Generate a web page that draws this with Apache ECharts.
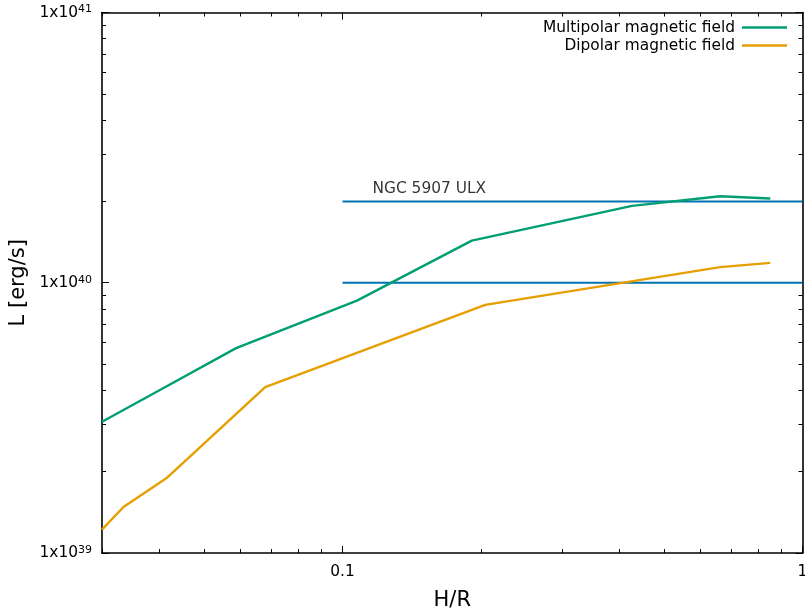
<!DOCTYPE html>
<html><head><meta charset="utf-8">
<script src="https://cdn.jsdelivr.net/npm/echarts@6/dist/echarts.min.js"></script>
<style>html,body{margin:0;padding:0;background:#fff}#c{width:805px;height:615px}</style>
</head><body><div id="c"></div>
<script>
// Data
const multiHR = [0.03, 0.040, 0.0587, 0.1075, 0.191, 0.426, 0.662, 0.851];
const multiL  = [3.06e39, 4.0e39, 5.73e39, 8.59e39, 1.432e40, 1.925e40, 2.09e40, 2.05e40];
const dipHR   = [0.03, 0.0334, 0.0414, 0.0679, 0.2043, 0.418, 0.662, 0.851];
const dipL    = [1.22e39, 1.48e39, 1.89e39, 4.11e39, 8.28e39, 1.008e40, 1.142e40, 1.185e40];
const ulxHR = [0.1, 1];
const ulxLevels = [1e40, 2e40];
const ulxName = 'NGC 5907 ULX';
const seriesNames = ['Multipolar magnetic field', 'Dipolar magnetic field'];
const xRange = [0.03, 1];
const yRange = [1e39, 1e41];
const xMajorTicks = [0.1, 1];
const xMinorTicks = [0.03, 0.04, 0.05, 0.06, 0.07, 0.08, 0.09, 0.2, 0.3, 0.4, 0.5, 0.6, 0.7, 0.8, 0.9];
const yMajorTicks = [1e39, 1e40, 1e41];
const yMinorTicks = [2e39, 3e39, 4e39, 5e39, 6e39, 7e39, 8e39, 9e39, 2e40, 3e40, 4e40, 5e40, 6e40, 7e40, 8e40, 9e40];

const FONT = 'DejaVu Sans';
const FS = 15.4;
const zip = (a, b) => a.map((v, i) => [v, b[i]]);

function axis(kind, pos, ticks, len, opts) {
  const r = kind === 'x' ? xRange : yRange;
  return Object.assign({
    type: 'log', logBase: 10, min: r[0], max: r[1], position: pos,
    axisLine: { show: false, onZero: false },
    axisTick: { show: true, inside: true, length: len, customValues: ticks, lineStyle: { color: '#000', width: 1 } },
    axisLabel: { show: false },
    splitLine: { show: false }, minorTick: { show: false }, minorSplitLine: { show: false }
  }, opts || {});
}
const line = { show: true, onZero: false, lineStyle: { color: '#000', width: 1.6 } };

const xAxes = [
  axis('x', 'bottom', xMajorTicks, 7, {
    axisLine: line,
    axisLabel: { show: true, customValues: xMajorTicks, fontFamily: FONT, fontSize: FS, color: '#000', margin: 11,
      formatter: v => String(v) },
    name: 'H/R', nameLocation: 'middle', nameGap: 37,
    nameTextStyle: { fontFamily: FONT, fontSize: 21, color: '#000' }
  }),
  axis('x', 'bottom', xMinorTicks, 4),
  axis('x', 'top', xMajorTicks, 7, { axisLine: line }),
  axis('x', 'top', xMinorTicks, 4)
];
const yAxes = [
  axis('y', 'left', yMajorTicks, 7, {
    axisLine: line,
    axisLabel: { show: true, customValues: yMajorTicks, margin: 10,
      formatter: v => '{b|1x10}{s|' + Math.round(Math.log10(v)) + '}',
      rich: {
        b: { fontFamily: FONT, fontSize: FS, color: '#000', lineHeight: 17 },
        s: { fontFamily: FONT, fontSize: 11, color: '#000', verticalAlign: 'top', lineHeight: 17, padding: [0, 0, 6, 0] }
      } },
    name: 'L [erg/s]', nameLocation: 'middle', nameGap: 65, nameRotate: 90,
    nameTextStyle: { fontFamily: FONT, fontSize: 21, color: '#000' }
  }),
  axis('y', 'left', yMinorTicks, 4),
  axis('y', 'right', yMajorTicks, 7, { axisLine: line }),
  axis('y', 'right', yMinorTicks, 4)
];

const legendBase = {
  orient: 'horizontal', align: 'right', right: 18, icon: 'rect', itemWidth: 45, itemHeight: 2.4,
  padding: 0, selectedMode: false,
  textStyle: { fontFamily: FONT, fontSize: FS, color: '#000', padding: [0, 2, 0, 0] }
};

const series = [
  { name: seriesNames[0], type: 'line', data: zip(multiHR, multiL), showSymbol: false, symbol: 'none',
    lineStyle: { color: '#009e73', width: 2.4 }, itemStyle: { color: '#009e73' }, z: 3 },
  { name: seriesNames[1], type: 'line', data: zip(dipHR, dipL), showSymbol: false, symbol: 'none',
    lineStyle: { color: '#e69f00', width: 2.4 }, itemStyle: { color: '#e69f00' }, z: 3 }
];
ulxLevels.forEach((lv, i) => {
  series.push({ name: 'ulx' + i, type: 'line', data: ulxHR.map(h => [h, lv]), symbol: 'none', silent: true,
    lineStyle: { color: '#0072b2', width: 2 }, z: 2 });
});
series.push({ name: 'ulxLabel', type: 'scatter', data: [[ulxHR[0], ulxLevels[1]]], symbolSize: 0, silent: true,
  label: { show: true, formatter: ulxName, position: 'right', distance: 0, offset: [30, -12],
    fontFamily: FONT, fontSize: FS, color: '#000' } });

const chart = echarts.init(document.getElementById('c'), null, { renderer: 'canvas' });
chart.setOption({
  animation: false,
  backgroundColor: '#fff',
  grid: { left: 102, right: 2.5, top: 12.5, bottom: 62, containLabel: false, outerBoundsMode: 'none' },
  legend: [
    Object.assign({}, legendBase, { data: [seriesNames[0]], top: 20 }),
    Object.assign({}, legendBase, { data: [seriesNames[1]], top: 38 })
  ],
  xAxis: xAxes,
  yAxis: yAxes,
  series: series
});
</script></body></html>
